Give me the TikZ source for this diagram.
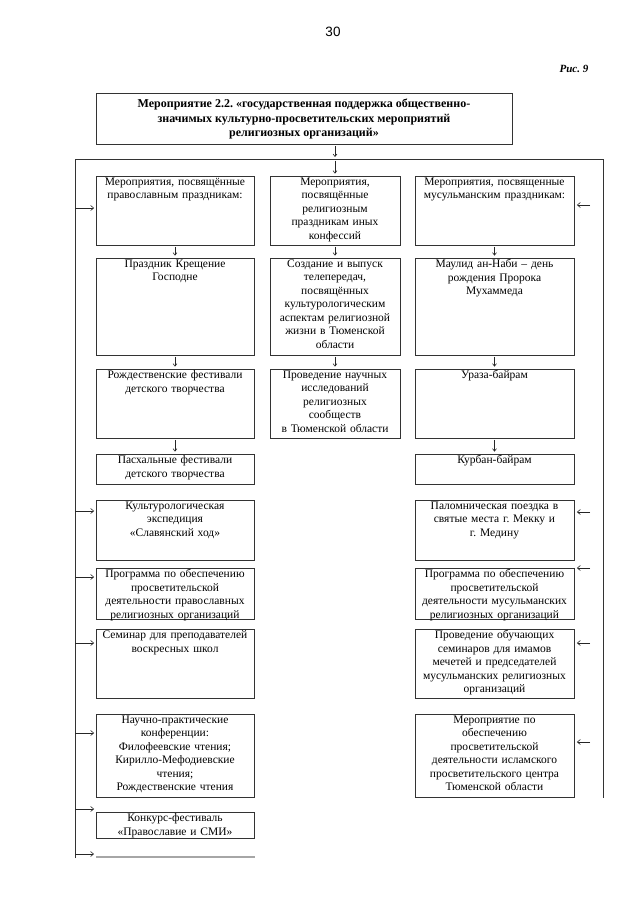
\documentclass[tikz,border=0pt]{standalone}
\usepackage{fontspec}
\setmainfont{Liberation Serif}
\newfontfamily\sansf{Liberation Sans}
\usetikzlibrary{arrows.meta}
\frenchspacing
\newcommand\bx[6]{%
  \node[boxst, box#2, minimum height={(#5)-(#4)}] (#1) at (#3,{((#4)+(#5))/2}) {};
  \node[txt, txt#2] (#1t) at (#3,#4) {#6};}
\begin{document}
\begin{tikzpicture}[x=1pt,y=-1pt,
  boxst/.style={draw=black!80, line width=0.8pt, inner sep=0pt},
  boxL/.style={minimum width=158pt}, txtL/.style={text width=156pt},
  boxM/.style={minimum width=130pt}, txtM/.style={text width=128pt},
  boxR/.style={minimum width=159pt}, txtR/.style={text width=157pt},
  txt/.style={anchor=north, align=center, inner xsep=0pt, inner ysep=1.5pt,
    font=\fontsize{11.5}{13.5}\selectfont},
  arr/.style={draw=black!85, line width=0.6pt, -{Straight Barb[length=3pt,width=5pt]}},
  sarr/.style={draw=black!85, line width=0.6pt, -{Straight Barb[length=2.5pt,width=4pt]}, shorten <=1.5pt, shorten >=2pt},
  frame/.style={draw=black!80, line width=0.8pt}
]
\useasboundingbox (0,0) rectangle (640,905);
\fill[white] (0,0) rectangle (640,905);

\node[font=\sansf\fontsize{13.5}{15}\selectfont] (pg) at (333,32) {30};
\node[font=\bfseries\itshape\fontsize{11}{13}\selectfont] (fig) at (574,69) {Рис. 9};

\node[boxst, minimum width=416pt, minimum height=51pt] (title) at (304,119) {};
\node[align=center, inner sep=0pt, font=\bfseries\fontsize{12}{14.5}\selectfont] (titlet) at (304,119)
  {Мероприятие 2.2. «государственная поддержка общественно-\\ значимых культурно-просветительских мероприятий\\ религиозных организаций»};

% frame
\coordinate (fbl) at (75,858);
\coordinate (ftl) at (75,159);
\coordinate (ftr) at (603,159);
\coordinate (fbr) at (603,798);
\coordinate (ftm) at (335,159);
\draw[frame] (fbl) -- (ftl) -- (ftr) -- (fbr);

% row 1
\bx{L1}{L}{175}{176}{245}{Мероприятия, посвящённые\\ православным праздникам:}
\bx{M1}{M}{335}{176}{245}{Мероприятия,\\ посвящённые\\ религиозным\\ праздникам иных\\ конфессий}
\bx{R1}{R}{494.5}{176}{245}{Мероприятия, посвященные\\ мусульманским праздникам:}
% row 2
\bx{L2}{L}{175}{258}{355}{Праздник Крещение\\ Господне}
\bx{M2}{M}{335}{258}{355}{Создание и выпуск\\ телепередач,\\ посвящённых\\ культурологическим\\ аспектам религиозной\\ жизни в Тюменской\\ области}
\bx{R2}{R}{494.5}{258}{355}{Маулид ан-Наби – день\\ рождения Пророка\\ Мухаммеда}
% row 3
\bx{L3}{L}{175}{369}{438}{Рождественские фестивали\\ детского творчества}
\bx{M3}{M}{335}{369}{438}{Проведение научных\\ исследований\\ религиозных\\ сообществ\\ в Тюменской области}
\bx{R3}{R}{494.5}{369}{438}{Ураза-байрам}
% row 4
\bx{L4}{L}{175}{454}{484}{Пасхальные фестивали\\ детского творчества}
\bx{R4}{R}{494.5}{454}{484}{Курбан-байрам}
% row 5
\bx{L5}{L}{175}{500}{560}{Культурологическая\\ экспедиция\\ «Славянский ход»}
\bx{R5}{R}{494.5}{500}{560}{Паломническая поездка в\\ святые места г. Мекку и\\ г. Медину}
% row 6
\bx{L6}{L}{175}{568}{619}{Программа по обеспечению\\ просветительской\\ деятельности православных\\ религиозных организаций}
\bx{R6}{R}{494.5}{568}{619}{Программа по обеспечению\\ просветительской\\ деятельности мусульманских\\ религиозных организаций}
% row 7
\bx{L7}{L}{175}{629}{698}{Семинар для преподавателей\\ воскресных школ}
\bx{R7}{R}{494.5}{629}{698}{Проведение обучающих\\ семинаров для имамов\\ мечетей и председателей\\ мусульманских религиозных\\ организаций}
% row 8
\bx{L8}{L}{175}{714}{797}{Научно-практические\\ конференции:\\ Филофеевские чтения;\\ Кирилло-Мефодиевские\\ чтения;\\ Рождественские чтения}
\bx{R8}{R}{494.5}{714}{797}{Мероприятие по\\ обеспечению\\ просветительской\\ деятельности исламского\\ просветительского центра\\ Тюменской области}
% row 9
\bx{L9}{L}{175}{812}{838}{Конкурс-фестиваль\\ «Православие и СМИ»}

% bottom grey line
\coordinate (bg1) at (96,857);
\coordinate (bg2) at (255,857);
\draw[black!35, line width=1.3pt] (bg1) -- (bg2);

% top arrows
\draw[sarr] (title.south -| ftm) -- (ftm);
\draw[sarr] (ftm) -- (M1.north);

% vertical arrows
\draw[sarr] (L1.south) -- (L2.north);
\draw[sarr] (M1.south) -- (M2.north);
\draw[sarr] (R1.south) -- (R2.north);
\draw[sarr] (L2.south) -- (L3.north);
\draw[sarr] (M2.south) -- (M3.north);
\draw[sarr] (R2.south) -- (R3.north);
\draw[sarr] (L3.south) -- (L4.north);
\draw[sarr] (R3.south) -- (R4.north);

% left arrows
\foreach \n/\y in {1/208, 5/511, 6/577, 7/643, 8/733, 9/809}{
  \coordinate (la\n) at (75,\y);
  \draw[arr, shorten >=1.5pt] (la\n) -- (la\n -| L\n.west);
}
\coordinate (la10) at (75,854);
\coordinate (la10e) at (94,854);
\draw[arr] (la10) -- (la10e);

% right arrows
\foreach \n/\y in {1/205, 5/512, 6/568, 7/643, 8/742}{
  \coordinate (ra\n) at (590,\y);
  \draw[arr, shorten >=2.5pt] (ra\n) -- (ra\n -| R\n.east);
}
\end{tikzpicture}
\end{document}
